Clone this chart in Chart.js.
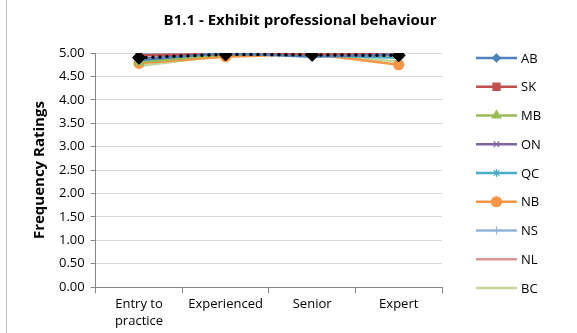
<!DOCTYPE html>
<html>
<head>
<meta charset="utf-8">
<script src="https://cdn.jsdelivr.net/npm/chart.js@4/dist/chart.umd.min.js"></script>
<style>
  html, body { margin: 0; padding: 0; background: #fff; }
  #wrap { width: 577px; height: 333px; }
</style>
</head>
<body>
<div id="wrap"><canvas id="chart"></canvas></div>
<script>
const categories = [["Entry to", "practice"], "Experienced", "Senior", "Expert"];
const provinces = ["AB", "SK", "MB", "ON", "QC", "NB", "NS", "NL", "BC"];
const ab = [4.85, 5.00, 4.92, 4.97];
const sk = [4.95, 4.98, 4.98, 4.98];
const mb = [4.80, 4.97, 4.98, 4.95];
const on = [4.88, 4.97, 4.97, 4.95];
const qc = [4.85, 4.98, 4.95, 4.90];
const nb = [4.78, 4.92, 4.98, 4.75];
const ns = [5.00, 5.00, 4.95, 4.97];
const nl = [4.97, 4.98, 4.98, 4.98];
const bc = [4.72, 4.95, 4.97, 4.82];
const average = [4.90, 4.97, 4.96, 4.95];
const yTicks = [0, 0.5, 1, 1.5, 2, 2.5, 3, 3.5, 4, 4.5, 5];

const seriesValues = [ab, sk, mb, on, qc, nb, ns, nl, bc];
const colors = ["#4F81BD", "#C0504D", "#9BBB59", "#8064A2", "#4BACC6", "#F79646", "#95B3D7", "#D99694", "#C3D69B"];
const markers = ["rectRot", "rect", "triangle", "crossRot", "star", "circle", "line", false, false];
const radii = [4, 5, 5, 4, 4, 5, 4, 0, 0];

const font = "'Open Sans', 'Liberation Sans', sans-serif";

const datasets = provinces.map((p, i) => ({
  label: p,
  data: seriesValues[i],
  borderColor: colors[i],
  backgroundColor: colors[i],
  borderWidth: 2.5,
  pointStyle: markers[i],
  pointRadius: radii[i],
  pointRotation: markers[i] === "line" ? 90 : 0,
  pointBorderWidth: 1.2,
  pointHoverRadius: radii[i],
  tension: 0,
  order: 1
}));
datasets.push({
  label: "Average",
  data: average,
  borderColor: "#000",
  backgroundColor: "#000",
  borderWidth: 3.5,
  borderDash: [0, 7],
  borderCapStyle: "round",
  pointStyle: "rectRot",
  pointRadius: 6.5,
  pointBorderWidth: 1,
  order: 0
});

// title, left border and the legend (line + marker per province)
const extras = {
  id: "extras",
  afterDraw(chart) {
    const ctx = chart.ctx;
    ctx.save();
    ctx.strokeStyle = "#BBBBBB";
    ctx.lineWidth = 1;
    ctx.beginPath(); ctx.moveTo(6.5, 0); ctx.lineTo(6.5, 333); ctx.stroke();

    ctx.fillStyle = "#000";
    ctx.font = "bold 15px " + font;
    ctx.textAlign = "center";
    ctx.textBaseline = "middle";
    ctx.fillText("B1.1 - Exhibit professional behaviour", 300, 21);

    ctx.font = "13px " + font;
    ctx.textAlign = "left";
    provinces.forEach((p, i) => {
      const y = 58 + i * 28.75;
      ctx.strokeStyle = colors[i];
      ctx.lineWidth = 2.5;
      ctx.beginPath(); ctx.moveTo(476, y); ctx.lineTo(517, y); ctx.stroke();
      if (markers[i]) {
        ctx.fillStyle = colors[i];
        ctx.lineWidth = 1.2;
        Chart.helpers.drawPoint(ctx, {
          pointStyle: markers[i],
          radius: radii[i],
          rotation: markers[i] === "line" ? 90 : 0,
          borderWidth: 1.2
        }, 496.5, y);
      }
      ctx.fillStyle = "#000";
      ctx.fillText(p, 521, y + 1);
    });
    ctx.restore();
  }
};

new Chart(document.getElementById("chart"), {
  type: "line",
  data: { labels: categories, datasets: datasets },
  plugins: [extras],
  options: {
    responsive: true,
    maintainAspectRatio: false,
    animation: false,
    layout: { padding: { top: 53, left: 31, right: 135, bottom: 0 } },
    plugins: {
      title: { display: false },
      tooltip: { enabled: false },
      legend: { display: false }
    },
    scales: {
      x: {
        offset: true,
        grid: { display: true, drawOnChartArea: false, offset: true, tickLength: 6, color: "#868686" },
        border: { color: "#868686" },
        ticks: { color: "#000", font: { family: font, size: 13, lineHeight: 1.3 }, maxRotation: 0, padding: 3 }
      },
      y: {
        min: 0,
        max: 5,
        afterBuildTicks: (axis) => { axis.ticks = yTicks.map(v => ({ value: v })); },
        grid: {
          color: "#D9D9D9",
          tickColor: "#868686",
          tickLength: 5
        },
        border: { color: "#868686" },
        ticks: {
          color: "#000",
          font: { family: font, size: 13 },
          padding: 6,
          callback: (v) => Number(v).toFixed(2)
        },
        title: {
          display: true,
          text: "Frequency Ratings",
          color: "#000",
          font: { family: font, size: 15, weight: "bold" },
          padding: { top: 0, bottom: 4 }
        }
      }
    }
  }
});
</script>
</body>
</html>
